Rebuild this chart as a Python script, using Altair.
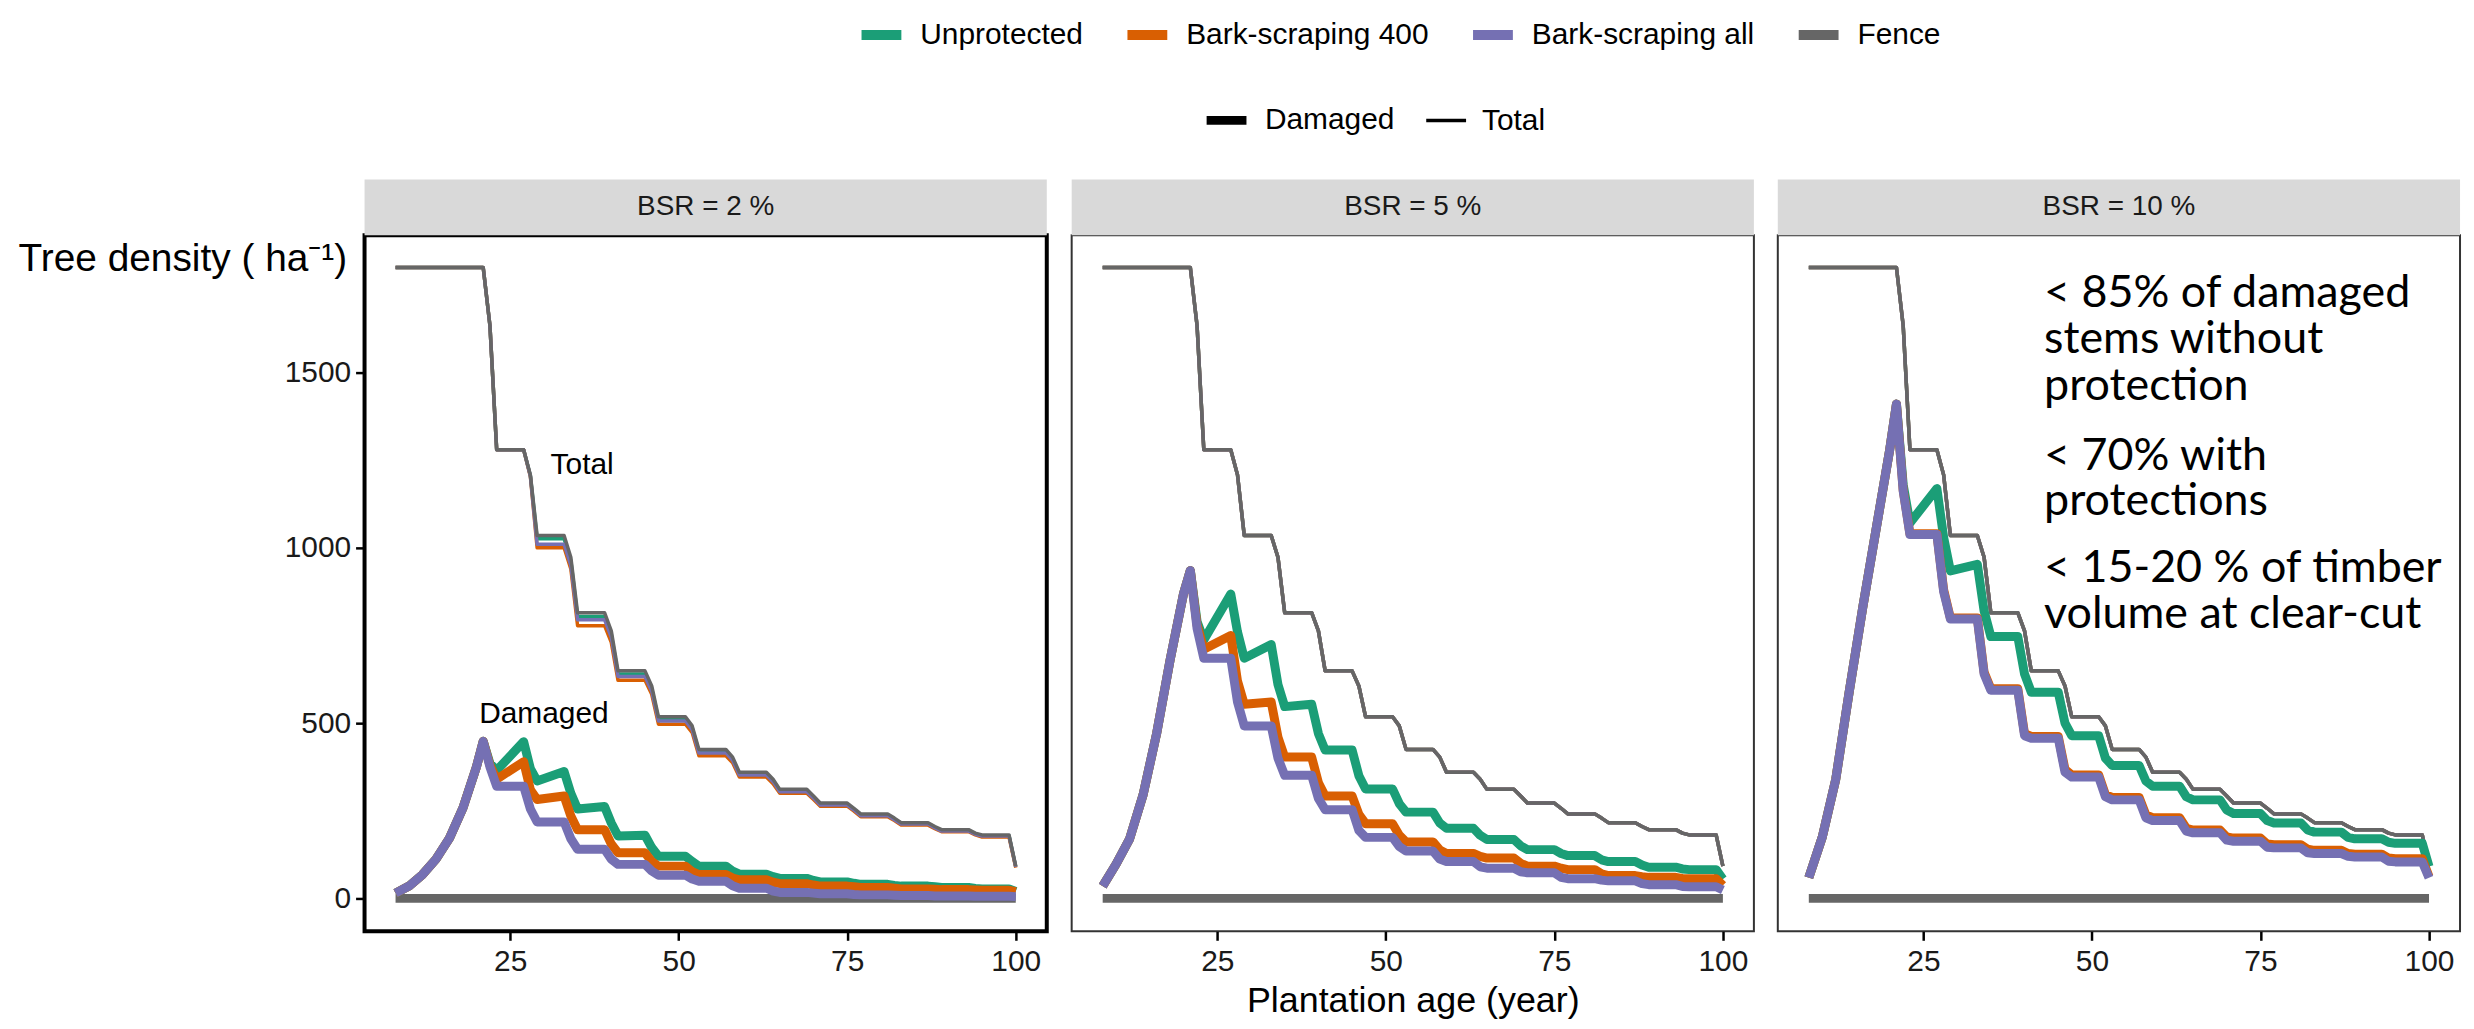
import altair as alt
import pandas as pd

SCENARIOS = ["Unprotected", "Bark-scraping 400", "Bark-scraping all", "Fence"]
COLORS = ["#1B9E77", "#D95F02", "#7570B3", "#666666"]
TYPES = ["Damaged", "Total"]
PANELS = ["BSR = 2 %", "BSR = 5 %", "BSR = 10 %"]

# x positions (plantation age, years)
PRE_X = [8, 10, 12, 14, 16, 18, 20, 21]
START_X = [8, 21]
STEP_X = [22, 23, 27, 28, 29, 33, 34, 35, 39, 40, 41, 45, 46, 47, 51, 52, 53,
          57, 58, 59, 63, 64, 65, 69, 70, 71, 75, 76, 77, 81, 82, 83, 87, 88,
          89, 93, 94, 95, 99, 100]
FENCE_DMG_X = [8, 100]
FENCE_DMG = [0, 0]

TOTAL_START = [1800, 1800]

FENCE_TOTAL = [1634, 1280, 1280, 1208, 1035, 1035, 973, 815, 815, 763, 649, 649, 606, 518,
               518, 492, 425, 425, 403, 360, 360, 340, 311, 311, 292, 272, 272, 257, 241,
               241, 229, 216, 216, 205, 196, 196, 186, 181, 181, 92]

# ---- BSR = 2 %
P1_TOT_UNP = [1634, 1280, 1280, 1206, 1026, 1026, 964, 804, 804, 753, 640, 640, 598, 511,
              511, 486, 419, 419, 398, 355, 355, 336, 307, 307, 288, 269, 269, 254, 238,
              238, 226, 213, 213, 203, 194, 194, 184, 179, 179, 90]
P1_TOT_B400 = [1634, 1280, 1280, 1203, 1000, 1000, 940, 778, 778, 730, 622, 622, 582, 497,
               497, 473, 407, 407, 387, 346, 346, 327, 300, 300, 282, 263, 263, 249, 233,
               233, 222, 209, 209, 199, 190, 190, 181, 175, 175, 88]
P1_TOT_BALL = [1634, 1280, 1280, 1205, 1010, 1010, 950, 795, 795, 745, 633, 633, 591, 506,
               506, 481, 415, 415, 394, 352, 352, 333, 304, 304, 286, 266, 266, 252, 236,
               236, 224, 212, 212, 201, 192, 192, 183, 178, 178, 90]
P1_PRE = [15, 35, 68, 112, 172, 258, 375, 448]
P1_DMG_UNP = [385, 365, 447, 370, 335, 362, 300, 255, 262, 215, 178, 180, 145, 120,
              120, 105, 92, 92, 78, 69, 69, 62, 57, 57, 51, 47, 47, 43, 40,
              40, 37, 35, 35, 33, 31, 31, 28, 27, 27, 20]
P1_DMG_B400 = [380, 340, 390, 310, 282, 292, 235, 196, 196, 155, 130, 130, 105, 92,
               92, 76, 68, 68, 58, 53, 53, 46, 42, 42, 38, 35, 35, 33, 31,
               31, 29, 27, 27, 26, 25, 25, 24, 23, 23, 19]
P1_DMG_BALL = [375, 320, 320, 255, 218, 218, 170, 140, 140, 112, 97, 97, 78, 66,
               66, 55, 49, 49, 36, 29, 29, 21, 17, 17, 15, 13, 13, 11, 10,
               10, 9, 8, 8, 7, 7, 7, 6, 6, 6, 5]

# ---- BSR = 5 %
P2_PRE = [35, 98, 170, 296, 470, 680, 870, 935]
P2_DMG_UNP = [790, 737, 868, 760, 685, 724, 610, 547, 554, 470, 423, 423, 350, 312,
              312, 270, 246, 246, 215, 200, 200, 180, 168, 168, 150, 139, 139, 128, 122,
              122, 110, 105, 105, 95, 89, 89, 84, 82, 82, 55]
P2_DMG_B400 = [780, 711, 750, 620, 554, 560, 460, 403, 403, 330, 292, 292, 240, 213,
               213, 180, 161, 161, 138, 128, 128, 120, 115, 115, 100, 92, 92, 86, 82,
               82, 70, 65, 65, 62, 60, 60, 57, 56, 56, 37]
P2_DMG_BALL = [770, 685, 685, 560, 492, 492, 400, 351, 351, 285, 253, 253, 194, 174,
               174, 148, 135, 135, 112, 105, 105, 90, 86, 86, 76, 73, 73, 60, 56,
               56, 52, 50, 50, 42, 39, 39, 34, 33, 33, 24]

# ---- BSR = 10 %
P3_PRE = [59, 175, 340, 590, 830, 1055, 1280, 1410]
P3_DMG_UNP = [1180, 1071, 1169, 1030, 934, 953, 820, 747, 747, 640, 588, 588, 500, 464,
              464, 400, 379, 379, 335, 320, 320, 290, 281, 281, 252, 242, 242, 222, 215,
              215, 195, 189, 189, 174, 170, 170, 160, 157, 157, 91]
P3_DMG_B400 = [1165, 1040, 1040, 880, 800, 800, 645, 598, 598, 470, 462, 462, 368, 352,
               352, 296, 288, 288, 238, 230, 230, 200, 195, 195, 175, 172, 172, 155, 153,
               153, 140, 137, 137, 128, 126, 126, 115, 113, 113, 62]
P3_DMG_BALL = [1162, 1038, 1038, 875, 797, 797, 640, 594, 594, 464, 457, 457, 360, 346,
               346, 290, 281, 281, 230, 222, 222, 192, 187, 187, 166, 163, 163, 146, 144,
               144, 130, 128, 128, 120, 118, 118, 106, 104, 104, 59]

TOTALS = {
    0: [P1_TOT_UNP, P1_TOT_B400, P1_TOT_BALL, FENCE_TOTAL],
    1: [FENCE_TOTAL, FENCE_TOTAL, FENCE_TOTAL, FENCE_TOTAL],
    2: [FENCE_TOTAL, FENCE_TOTAL, FENCE_TOTAL, FENCE_TOTAL],
}
PRES = {0: P1_PRE, 1: P2_PRE, 2: P3_PRE}
DAMAGED = {
    0: [P1_DMG_UNP, P1_DMG_B400, P1_DMG_BALL],
    1: [P2_DMG_UNP, P2_DMG_B400, P2_DMG_BALL],
    2: [P3_DMG_UNP, P3_DMG_B400, P3_DMG_BALL],
}

ANNOT1_TEXT = ["Total", "Damaged"]
ANNOT1_X = [31, 20.4]
ANNOT1_Y = [1235, 525]

ANNOT3_TEXT = ["< 85% of damaged", "stems without", "protection", "< 70% with",
               "protections", "< 15-20 % of timber", "volume at clear-cut"]
ANNOT3_X = [42.9] * 7
ANNOT3_Y = [1727, 1597, 1462, 1262, 1134, 943, 812]

rows = []
for p in range(3):
    for s, scen in enumerate(SCENARIOS):
        tot = TOTALS[p][s]
        for xx, yy in zip(START_X + STEP_X, TOTAL_START + tot):
            rows.append(dict(panel=PANELS[p], scenario=scen, type="Total", x=xx, y=yy))
        if scen == "Fence":
            for xx, yy in zip(FENCE_DMG_X, FENCE_DMG):
                rows.append(dict(panel=PANELS[p], scenario=scen, type="Damaged", x=xx, y=yy))
        else:
            dmg = DAMAGED[p][s]
            for xx, yy in zip(PRE_X + STEP_X, PRES[p] + dmg):
                rows.append(dict(panel=PANELS[p], scenario=scen, type="Damaged", x=xx, y=yy))
df = pd.DataFrame(rows)

W, H = 685, 699
FONT = "Liberation Sans"
XDOM = [3.4, 104.6]
YDOM = [-94, 1892]

color_legend = alt.Legend(title=None, orient="none", legendX=494, legendY=-226,
                          direction="horizontal", symbolType="stroke",
                          symbolStrokeWidth=10, symbolSize=1600, labelFont=FONT,
                          labelFontSize=30, labelColor="black", labelOffset=14,
                          labelLimit=0, columnPadding=24)
sw_legend = alt.Legend(title=None, orient="none", legendX=841, legendY=-140,
                       direction="horizontal", symbolType="stroke",
                       symbolStrokeColor="black", symbolSize=1600, labelFont=FONT,
                       labelFontSize=30, labelColor="black", labelOffset=14,
                       labelLimit=0, columnPadding=24)

color_enc = alt.Color("scenario:N", scale=alt.Scale(domain=SCENARIOS, range=COLORS),
                      legend=color_legend)
sw_enc = alt.StrokeWidth("type:N", scale=alt.Scale(type="ordinal", domain=TYPES, range=[9, 3.5]),
                         legend=sw_legend)


def panel(i):
    pname = PANELS[i]
    if i == 0:
        yaxis = alt.Axis(values=[0, 500, 1000, 1500], format="d", title="Tree density ( ha⁻¹)",
                         titleAngle=0, titleAlign="left", titleBaseline="middle",
                         titleX=-348, titleY=23, titleFont=FONT, titleFontSize=39,
                         titleFontWeight="normal", titleColor="black",
                         labelFont=FONT, labelFontSize=30, labelColor="#1a1a1a",
                         tickSize=9, tickWidth=2.5, tickColor="black", labelPadding=5,
                         domain=False, grid=False)
    else:
        yaxis = None
    xaxis = alt.Axis(values=[25, 50, 75, 100], format="d",
                     title="Plantation age (year)" if i == 1 else None,
                     titleFont=FONT, titleFontSize=36, titleFontWeight="normal",
                     titleColor="black", titlePadding=8,
                     labelFont=FONT, labelFontSize=30, labelColor="#1a1a1a",
                     tickSize=9, tickWidth=2.5, tickColor="black", labelPadding=6,
                     domain=False, grid=False)
    xenc = alt.X("x:Q", scale=alt.Scale(domain=XDOM, nice=False, zero=False), axis=xaxis)
    yenc = alt.Y("y:Q", scale=alt.Scale(domain=YDOM, nice=False, zero=False), axis=yaxis)

    strip_df = pd.DataFrame({"label": [pname]})
    strip = alt.Chart(strip_df).mark_rect(color="#D9D9D9").encode(
        x=alt.value(0), x2=alt.value(W), y=alt.value(-56), y2=alt.value(0))
    strip_txt = alt.Chart(strip_df).mark_text(font=FONT, fontSize=28, color="#1a1a1a",
                                              baseline="middle").encode(
        x=alt.value(W / 2), y=alt.value(-28), text="label:N")

    layers = [strip, strip_txt]
    base = alt.Chart(df).transform_filter(alt.datum.panel == pname)
    for typ, order in [("Total", ["Unprotected", "Bark-scraping 400", "Bark-scraping all", "Fence"]),
                       ("Damaged", ["Fence", "Unprotected", "Bark-scraping 400", "Bark-scraping all"])]:
        for scen in order:
            layers.append(
                base.transform_filter((alt.datum.scenario == scen) & (alt.datum.type == typ))
                .mark_line(strokeJoin="round", strokeCap="butt")
                .encode(x=xenc, y=yenc, color=color_enc, strokeWidth=sw_enc)
            )
    if i == 0:
        a_df = pd.DataFrame({"x": ANNOT1_X, "y": ANNOT1_Y, "t": ANNOT1_TEXT})
        layers.append(alt.Chart(a_df).mark_text(font=FONT, fontSize=30, color="black",
                                                align="left", baseline="middle").encode(
            x=alt.X("x:Q", scale=alt.Scale(domain=XDOM, nice=False, zero=False), axis=xaxis),
            y=alt.Y("y:Q", scale=alt.Scale(domain=YDOM, nice=False, zero=False), axis=yaxis),
            text="t:N"))
    if i == 2:
        a_df = pd.DataFrame({"x": ANNOT3_X, "y": ANNOT3_Y, "t": ANNOT3_TEXT})
        layers.append(alt.Chart(a_df).mark_text(font="Lato", fontSize=45, color="black",
                                                align="left", baseline="middle").encode(
            x=alt.X("x:Q", scale=alt.Scale(domain=XDOM, nice=False, zero=False), axis=xaxis),
            y=alt.Y("y:Q", scale=alt.Scale(domain=YDOM, nice=False, zero=False), axis=yaxis),
            text="t:N"))
    view = alt.ViewBackground(stroke="black", strokeWidth=4) if i == 0 else \
        alt.ViewBackground(stroke="#333333", strokeWidth=2)
    return alt.layer(*layers).properties(width=W, height=H, view=view)


chart = alt.hconcat(panel(0), panel(1), panel(2), spacing=22).resolve_scale(
    color="shared", strokeWidth="shared"
).properties(
    padding={"left": 8, "top": 0, "right": 5, "bottom": 5},
    background="white",
)

chart.save("out.html", embed_options={"renderer": "svg", "actions": False})
